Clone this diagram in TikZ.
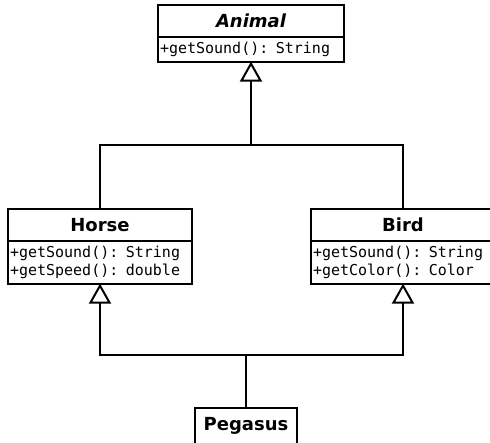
\documentclass[tikz,border=0pt]{standalone}
\usepackage{fontspec}
\setmainfont{DejaVu Sans}
\newfontfamily\opsfont{DejaVu Sans Mono}
\usetikzlibrary{positioning,arrows.meta}

\begin{document}
\begin{tikzpicture}[x=1pt, y=-1pt, line width=2pt,
    classname/.style={rectangle, draw, fill=white, outer sep=0pt, minimum height=32pt,
        font=\fontsize{18}{21}\selectfont\bfseries},
    classops/.style={rectangle, draw, fill=white, outer sep=0pt, inner xsep=2pt, inner ysep=5pt,
        align=left, anchor=north, font=\opsfont\fontsize{15}{18}\selectfont},
    inherit/.style={-{Triangle[open, length=20pt, width=22pt, fill=white]}},
    link/.style={line width=2pt}]

\useasboundingbox (0,0) rectangle (490,442);

% classes
\node [classname, minimum width=186pt] (animal) at (251,21) {\itshape Animal};
\node [classops, minimum width=186pt, text width=182pt, below=0pt of animal] (animal-ops) {+getSound(): String};

\node [classname, minimum width=184pt] (horse) at (100,225) {Horse};
\node [classops, minimum width=184pt, text width=180pt, below=0pt of horse] (horse-ops) {+getSound(): String\\+getSpeed(): double};

\node [classname, minimum width=184pt] (bird) at (403,225) {Bird};
\node [classops, minimum width=184pt, text width=180pt, below=0pt of bird] (bird-ops) {+getSound(): String\\+getColor(): Color};

\node [classname, minimum width=102pt, minimum height=36pt] (pegasus) at (246,426) {Pegasus};

% joins
\coordinate (top-join) at (251,145);
\coordinate (bot-join) at (246,355);

% generalisations
\draw [link] (horse.north) |- (top-join) -| (bird.north);
\draw [inherit] (top-join) -- (animal-ops.south);
\draw [link] (pegasus.north) -- (bot-join);
\draw [inherit] (bot-join) -| (horse-ops.south);
\draw [inherit] (bot-join) -| (bird-ops.south);

\end{tikzpicture}
\end{document}
